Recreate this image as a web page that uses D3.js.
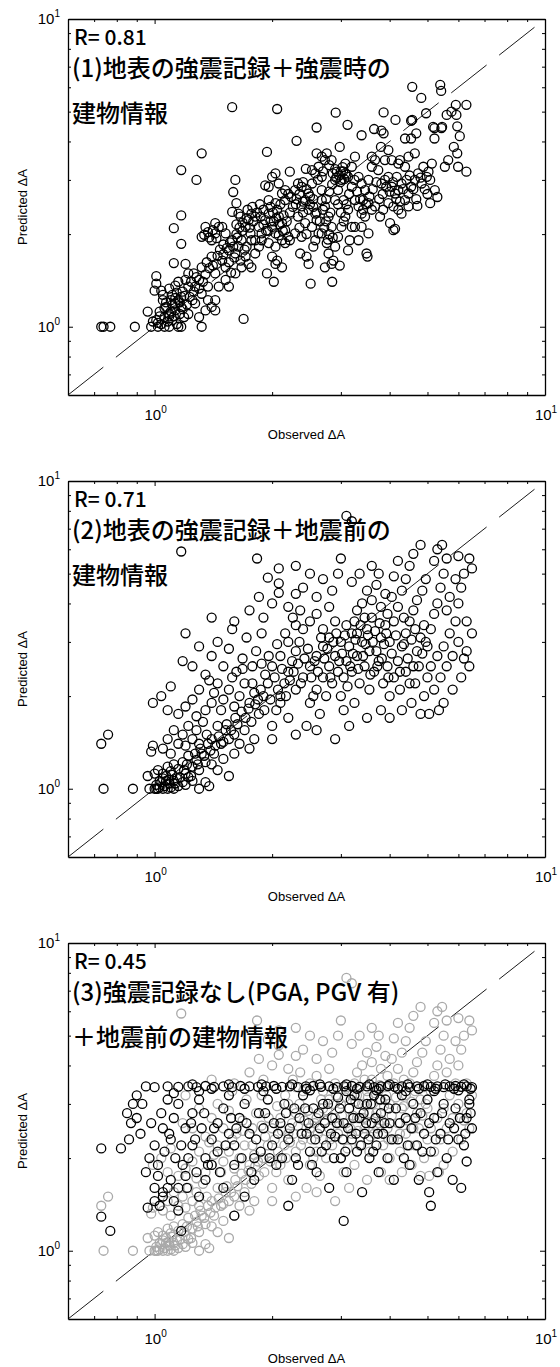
<!DOCTYPE html>
<html>
<head>
<meta charset="utf-8">
<script src="https://d3js.org/d3.v7.min.js"></script>
<style>
  body { margin: 0; background: #fff; }
</style>
</head>
<body>
<script>
// ---- data ----
var rValues = ["0.81", "0.71", "0.45"];
var labelLine1 = ["(1)地表の強震記録＋強震時の", "(2)地表の強震記録＋地震前の", "(3)強震記録なし(PGA, PGV 有)"];
var labelLine2 = ["建物情報", "建物情報", "＋地震前の建物情報"];
var majorTicks = [1, 10];
var minorTicks = [0.7, 0.8, 0.9, 2, 3, 4, 5, 6, 7, 8, 9];
var tickExponents = ["0", "1"];

// (1) observed vs predicted
var panel1Points = [
  [0.73,1.0],[0.74,1.0],[0.77,1.0],[0.89,1.0],[0.96,1.12],[0.98,1.0],
  [0.99,1.04],[1.01,1.05],[1.02,1.0],[1.04,1.02],[1.06,1.075],[1.09,1.10],[1.09,1.0],[1.11,1.05],
  [1.13,1.13],[1.15,1.0],[1.17,1.0],[1.13,1.19],[1.15,1.22],[1.17,1.16],[1.19,1.075],[1.10,1.22],
  [1.07,1.16],[1.0,1.31],[1.01,1.38],[1.01,1.46],[1.04,1.31],[1.09,1.33],[1.13,1.36],[1.15,1.40],
  [1.20,1.42],[1.12,1.61],[1.20,1.60],[1.17,1.25],[1.05,1.22],[1.02,1.03],[1.06,1.0],[1.08,1.04],
  [1.12,1.08],[1.14,1.02],[1.03,1.08],[1.1,1.12],[1.16,1.1],[1.18,1.14],[1.07,1.2],[1.11,1.27],
  [1.14,1.29],[1.18,1.3],[1.05,1.27],
  [1.22,1.10],[1.25,1.22],[1.27,1.35],[1.26,1.49],[1.30,1.42],[1.32,1.56],[1.32,1.28],[1.32,1.0],
  [1.35,1.13],[1.37,1.35],[1.40,1.16],[1.43,1.22],[1.43,1.49],[1.44,1.60],[1.40,1.69],[1.32,1.96],
  [1.37,2.03],[1.43,2.01],[1.46,2.11],[1.35,2.11],[1.40,1.91],[1.22,1.35],[1.22,1.49],[1.27,1.19],
  [1.30,1.075],[1.43,1.13],[1.46,1.35],[1.37,1.22],[1.34,1.99],[1.38,1.95],[1.41,2.06],[1.44,1.94],
  [1.17,3.23],[1.28,3.0],[1.32,3.66],[1.17,2.30],[1.12,2.09],[1.17,1.86],
  [1.49,1.64],[1.52,1.56],[1.55,1.77],[1.58,1.91],[1.61,1.73],[1.64,1.82],[1.61,3.0],[1.59,2.74],
  [1.62,2.52],[1.58,2.36],[1.64,2.33],[1.67,1.91],[1.71,2.11],[1.74,2.22],[1.77,2.33],[1.76,2.01],
  [1.67,1.56],[1.71,1.69],[1.74,1.60],[1.77,1.56],[1.69,1.06],[1.52,1.42],[1.55,1.35],[1.61,1.49],
  [1.66,1.64],[1.49,2.11],[1.52,2.01],[1.43,2.17],[1.72,1.82],[1.77,1.91],[1.55,1.62],[1.6,1.68],
  [1.63,1.95],[1.68,2.05],[1.7,1.78],[1.5,1.85],[1.57,1.5],
  [1.81,2.28],[1.85,2.11],[1.88,2.01],[1.92,2.22],[1.96,2.33],[2.0,2.11],[2.04,2.01],[2.08,2.28],
  [2.12,2.17],[2.16,2.06],[1.94,3.70],[1.92,2.88],[1.96,2.85],[2.0,3.07],[2.04,3.15],[2.08,2.92],
  [2.12,2.71],[2.16,2.58],[1.96,2.58],[2.04,2.52],[1.88,1.91],[1.96,1.87],[2.04,1.82],[2.12,1.91],
  [2.0,1.69],[2.04,1.60],[2.12,1.56],[2.02,1.40],[1.94,1.49],[1.81,1.91],[1.85,1.82],[2.16,1.87],
  [2.20,1.96],[2.16,2.78],[2.22,3.19],[2.06,1.64],[1.81,1.73],[1.9,2.4],[1.98,2.45],[2.06,2.4],
  [2.1,2.5],[1.86,2.5],[2.02,2.2],[1.95,2.05],[2.08,1.98],[2.14,2.3],
  [2.24,2.64],[2.29,2.78],[2.33,2.92],[2.38,2.85],[2.43,2.58],[2.48,2.71],[2.53,2.92],[2.58,3.15],
  [2.60,3.66],[2.68,3.57],[2.73,3.48],[2.31,4.02],[2.60,4.44],[2.38,2.46],[2.48,2.40],[2.58,2.33],
  [2.33,2.28],[2.43,2.17],[2.53,2.11],[2.60,2.22],[2.36,1.73],[2.45,1.69],[2.48,1.60],[2.58,1.91],
  [2.63,2.01],[2.55,1.82],[2.51,1.38],[2.38,1.96],[2.29,2.01],[2.22,1.91],[2.44,3.26],[2.53,3.23],
  [2.63,3.31],[2.68,3.07],[2.3,2.5],[2.4,2.35],[2.5,2.5],[2.55,2.6],[2.35,2.1],[2.45,2.0],
  [2.68,2.58],[2.73,2.46],[2.79,2.28],[2.84,2.11],[2.68,2.01],[2.76,1.87],[2.79,1.73],[2.84,1.60],
  [2.87,1.64],[2.73,1.56],[2.85,1.40],[2.98,1.58],[2.90,1.82],[2.95,1.96],[3.01,2.11],[3.08,2.28],
  [3.13,2.40],[2.90,2.58],[2.95,2.78],[3.01,3.0],[3.08,3.15],[3.13,3.07],[2.93,3.19],[2.98,3.84],
  [3.08,3.39],[3.20,3.31],[2.91,4.96],[3.12,4.53],[2.76,3.66],[2.84,3.48],[2.68,2.78],[3.16,1.91],
  [3.20,2.11],[3.13,1.77],[3.05,2.58],[2.97,3.1],[3.04,3.2],[3.06,3.02],[2.99,2.95],[3.1,3.12],
  [2.75,2.2],[2.8,2.0],[2.78,1.92],[2.82,2.35],[2.72,2.1],[2.86,1.95],
  [3.26,3.57],[3.39,4.19],[3.33,3.07],[3.39,2.92],[3.46,2.78],[3.53,3.0],[3.60,3.31],[3.67,3.48],
  [3.74,3.23],[3.81,2.92],[3.89,3.0],[3.26,2.58],[3.33,2.46],[3.39,2.33],[3.46,2.28],[3.53,2.52],
  [3.60,2.40],[3.67,2.46],[3.78,2.28],[3.85,2.40],[3.33,1.91],[3.51,1.69],[3.49,1.73],[3.53,2.01],
  [3.65,4.39],[3.81,4.34],[3.86,4.97],[3.86,4.25],[3.80,3.84],[3.60,3.57],[3.89,3.48],[3.26,2.11],
  [3.39,2.11],[3.42,2.58],
  [3.97,3.07],[4.05,2.85],[4.13,2.71],[4.21,2.78],[4.29,2.92],[4.38,2.58],[4.47,2.71],[4.54,2.85],
  [4.64,3.0],[4.73,3.15],[3.97,2.52],[4.09,2.46],[4.21,2.40],[4.29,2.33],[4.13,2.08],[4.09,2.06],
  [4.01,2.17],[4.47,2.46],[4.71,2.47],[4.05,3.48],[4.21,3.39],[4.38,3.31],[4.47,3.57],[4.64,3.66],
  [4.54,4.09],[4.38,4.09],[4.68,4.25],[4.54,4.67],[4.14,4.70],[3.97,3.75],[4.25,3.48],[4.17,3.07],
  [4.57,6.02],[4.82,5.54],[4.57,4.7],
  [4.83,2.92],[4.98,3.07],[5.08,3.0],[5.13,3.39],[5.08,2.52],[5.30,2.64],[5.22,2.78],[4.96,4.94],
  [5.21,4.42],[5.43,4.42],[5.21,4.09],[5.60,4.88],[5.76,5.0],[5.93,4.88],[5.96,4.48],[6.05,4.16],
  [5.91,5.26],[6.29,5.26],[5.84,3.84],[5.96,3.66],[5.99,3.31],[5.54,3.31],[5.65,3.48],[6.29,3.19],
  [5.03,3.19],[4.88,3.31],[5.39,6.11],[5.42,5.84],[5.17,4.46],[5.45,4.46],
  [1.58,5.17],[2.06,5.1],
  [1.03,1.12],[1.06,1.15],[1.09,1.08],[1.11,1.18],[1.13,1.24],[1.16,1.2],[1.19,1.26],[1.21,1.18],
  [1.23,1.25],[1.26,1.3],[1.24,1.4],[1.28,1.45],[1.3,1.33],[1.33,1.4],[1.35,1.48],[1.38,1.55],
  [1.36,1.62],[1.41,1.58],[1.45,1.7],[1.47,1.78],[1.5,1.72],[1.53,1.8],[1.56,1.88],[1.59,1.82],
  [1.62,2.0],[1.65,2.1],[1.68,2.18],[1.72,2.25],[1.75,2.1],[1.79,2.2],[1.83,2.35],[1.87,2.28],
  [1.9,2.15],[1.93,2.05],[1.98,2.2],[2.01,2.35],[2.05,2.25],[2.09,2.15],[2.13,2.05],[2.18,2.2],
  [2.22,2.35],[2.26,2.45],[2.31,2.6],[2.35,2.7],[2.4,2.55],[2.45,2.8],[2.5,2.65],[2.55,2.45],
  [2.6,2.35],[2.65,2.2],[2.7,2.4],[2.75,2.6],[2.8,2.75],[2.85,2.9],[2.9,3.0],[2.95,2.5],
  [3.0,2.35],[3.05,2.2],[3.1,2.5],[3.15,2.7],[3.2,2.85],[3.25,3.0],[3.3,2.75],[3.36,2.6],
  [3.42,2.4],[3.48,2.5],[3.55,2.65],[3.62,2.8],[3.7,2.95],[3.76,2.6],[3.84,2.7],[3.92,2.85],
  [4.0,2.75],[4.08,2.95],[4.16,2.6],[4.25,2.55],[4.33,2.8],[4.42,3.0],[4.5,3.1],[4.6,2.8],
  [4.68,2.6],[4.8,3.05],[4.92,2.8],[5.0,2.7],[1.62,2.15],[1.66,2.28],[1.73,2.4],[1.78,2.45],
  [2.86,3.15],[2.9,3.25],[3.0,3.2],[2.92,3.05],[3.03,3.3],[2.7,3.2],[2.8,3.35],[2.62,3.0],
  [2.4,2.95],[2.2,2.7]
];

// (2) observed vs predicted
var panel2Points = [
  [0.74,1.0],[0.88,1.0],[0.97,1.0],[1.0,1.0],[1.01,1.0],[1.02,1.0],[1.03,1.01],[1.05,1.0],[1.06,1.02],
  [1.08,1.0],[1.1,1.01],[1.12,1.0],[1.15,1.02],[1.04,1.05],[1.07,1.06],[1.09,1.04],[1.12,1.06],
  [1.14,1.08],[1.18,1.05],[1.2,1.03],[1.22,1.09],[1.25,1.06],[1.3,1.0],[1.35,1.05],[1.38,1.02],
  [0.73,1.40],[0.76,1.50],[0.96,1.10],[0.98,1.32],[0.99,1.38],[1.0,1.12],[1.02,1.15],[1.05,1.12],
  [1.08,1.18],[1.1,1.14],[1.12,1.2],[1.15,1.16],[1.18,1.22],[1.2,1.12],[1.22,1.28],[1.25,1.18],
  [1.28,1.24],[1.3,1.15],[1.32,1.3],[1.35,1.22],[1.4,1.2],[1.42,1.3],[1.45,1.15],[1.5,1.25],
  [1.55,1.1],[1.6,1.3],
  [1.05,1.35],[1.08,1.45],[1.1,1.3],[1.12,1.55],[1.15,1.4],[1.18,1.5],[1.2,1.38],[1.22,1.6],
  [1.25,1.45],[1.28,1.55],[1.3,1.4],[1.33,1.65],[1.36,1.5],[1.4,1.45],[1.45,1.6],[1.48,1.4],
  [1.52,1.55],[1.55,1.45],[1.6,1.5],[1.65,1.4],[1.7,1.55],[1.75,1.35],[1.8,1.45],
  [0.99,1.9],[1.04,2.0],[1.1,2.15],[1.08,1.8],[1.15,1.75],[1.2,1.85],[1.25,1.95],[1.3,2.1],
  [1.35,1.8],[1.4,1.9],[1.42,2.05],[1.45,2.2],[1.5,1.95],[1.55,2.1],[1.6,1.85],[1.65,2.0],
  [1.7,2.2],[1.75,1.9],[1.8,2.05],[1.85,1.75],[1.9,2.0],
  [1.18,2.6],[1.25,2.5],[1.3,2.9],[1.2,3.2],[1.35,2.35],[1.4,2.7],[1.45,3.0],[1.5,2.5],[1.55,2.85],
  [1.58,3.3],[1.62,2.4],[1.68,2.65],[1.72,3.1],[1.78,2.5],[1.82,2.8],[1.88,3.2],[1.92,2.35],
  [1.17,5.9],[1.83,5.6],[2.08,5.2],[1.95,4.85],[2.08,4.65],[2.08,4.33],
  [1.4,3.6],[1.6,3.5],[1.75,3.8],[1.9,3.6],[2.0,4.0],[1.85,4.2],[2.2,3.9],[2.3,4.3],
  [2.0,1.6],[2.05,1.8],[2.1,2.0],[2.15,2.2],[2.2,2.4],[2.25,2.6],[2.3,2.8],[2.35,3.0],[2.4,3.3],
  [2.0,2.5],[2.1,2.7],[2.2,3.0],[2.3,3.4],[2.1,1.9],[2.2,1.7],[2.3,2.1],[2.4,2.3],[2.5,2.5],
  [2.6,2.7],[2.7,2.9],[2.8,3.1],[2.5,1.9],[2.6,2.1],[2.7,2.3],[2.8,2.5],[2.9,2.7],[2.45,1.6],
  [2.55,2.0],[2.65,1.75],[2.75,2.0],[2.85,2.2],[2.95,2.4],[2.5,3.5],[2.6,3.7],[2.7,3.3],[2.8,3.9],
  [2.9,3.5],[2.4,4.5],[2.6,4.2],[2.7,4.8],[2.85,4.4],[2.95,5.0],[2.3,5.3],[2.5,5.0],
  [2.0,1.45],[2.3,1.5],[2.6,1.55],[2.9,1.45],
  [3.0,2.0],[3.05,2.3],[3.1,2.6],[3.15,2.9],[3.2,3.2],[3.25,3.5],[3.3,3.8],[3.0,3.0],[3.1,3.4],
  [3.2,2.4],[3.3,2.7],[3.4,3.0],[3.5,3.3],[3.6,3.6],[3.7,2.8],[3.8,3.1],[3.9,3.4],[3.35,2.2],
  [3.45,2.5],[3.55,2.1],[3.65,2.4],[3.75,2.6],[3.85,2.2],[3.95,2.5],[3.05,1.8],[3.25,1.9],
  [3.5,1.7],[3.8,1.8],[3.15,1.6],[3.4,4.0],[3.5,4.4],[3.6,4.1],[3.7,4.6],[3.8,3.9],[3.9,4.3],
  [3.2,4.7],[3.35,5.0],[3.1,7.7],[3.2,7.4],[3.0,5.6],[3.6,5.3],[3.75,5.0],[3.45,3.6],[3.95,3.7],
  [3.3,3.2],[3.55,2.8],
  [4.0,2.0],[4.1,2.3],[4.2,2.6],[4.3,2.9],[4.4,3.2],[4.5,3.5],[4.6,3.8],[4.7,4.1],[4.0,3.0],
  [4.1,3.5],[4.2,3.9],[4.3,4.4],[4.4,4.8],[4.5,5.3],[4.6,5.8],[4.8,6.2],[4.2,5.5],[4.1,4.9],
  [4.0,1.7],[4.3,1.8],[4.5,2.2],[4.6,2.5],[4.7,2.8],[4.8,3.1],[4.9,3.4],[4.4,2.4],[4.25,2.1],
  [4.8,1.75],[4.9,2.0],[5.0,2.3],[4.55,1.9],[4.65,3.3],[4.85,4.4],[4.95,4.8],[4.05,4.2],[4.35,3.6],
  [5.0,2.9],[5.1,3.3],[5.2,3.7],[5.3,4.0],[5.4,4.5],[5.5,5.0],[5.2,5.5],[5.3,6.0],[5.6,5.6],
  [5.1,2.5],[5.3,2.7],[5.5,2.9],[5.7,3.2],[5.9,3.5],[5.2,2.1],[5.4,2.3],[5.6,2.5],[5.8,2.7],
  [6.0,3.0],[5.5,1.9],[5.8,2.1],[6.1,2.3],[5.05,1.75],[5.35,1.8],[6.0,4.0],[6.1,4.5],[6.2,5.0],
  [6.3,3.5],[6.4,5.6],[6.5,5.2],[6.3,2.8],[6.4,2.5],[6.2,2.65],[6.5,3.2],[5.7,4.2],[5.9,4.8],
  [5.6,3.8],[6.0,5.7],[5.45,6.2],
  [1.01,1.03],[1.03,1.06],[1.05,1.08],[1.07,1.1],[1.09,1.07],[1.11,1.11],[1.13,1.04],[1.16,1.09],
  [1.19,1.15],[1.21,1.2],[1.24,1.1],[1.27,1.3],[1.29,1.2],[1.31,1.35],[1.34,1.28],[1.37,1.4],
  [1.39,1.33],[1.43,1.38],[1.46,1.48],[1.5,1.42],[1.53,1.62],[1.57,1.55],[1.61,1.7],[1.63,1.62],
  [1.67,1.78],[1.71,1.7],[1.74,1.82],[1.77,1.65],[1.81,1.88],[1.84,1.95],[1.87,2.1],[1.91,1.8],
  [1.95,2.2],[1.98,1.95],[2.03,2.3],[2.07,2.1],[2.12,2.45],[2.17,2.0],[2.22,2.25],[2.27,2.4],
  [2.33,2.55],[2.37,2.2],[2.42,2.65],[2.47,2.85],[2.52,2.3],[2.57,2.6],[2.62,2.4],[2.67,3.1],
  [2.72,2.65],[2.77,2.85],[2.82,2.3],[2.87,3.0],[2.92,3.2],[2.97,2.6],[3.02,2.75],[3.07,3.15],
  [3.12,2.15],[3.17,2.5],[3.22,2.75],[3.27,3.05],[3.32,2.45],[3.37,3.4],[3.42,2.7],[3.47,2.95],
  [3.52,3.15],[3.57,2.35],[3.62,3.0],[3.67,3.25],[3.72,2.5],[3.77,3.45],[3.82,2.65],[3.87,2.95],
  [3.92,3.2],[3.97,2.3],[4.05,2.75],[4.15,3.15],[4.25,2.4],[4.35,2.95],[4.45,2.65],[4.55,3.05],
  [4.65,2.2],[4.75,2.5],[4.85,2.75],[4.95,3.0],[1.28,1.72],[1.38,2.25],[1.48,1.8],[1.58,2.3],
  [1.68,2.45],[1.78,2.2],[1.88,2.55],[1.96,2.7],[2.06,2.95],[2.16,3.2],[2.26,3.6],[2.36,3.8]
];

// (3) observed vs predicted (black); grey marks repeat panel (2)
var panel3Points = [
  [0.73,1.29],[0.77,1.16],[0.96,1.38],[1.17,1.16],[0.73,2.15],[0.82,2.15],[0.85,2.8],[0.88,3.0],
  [0.9,3.2],[0.87,2.6],[0.92,2.4],[0.95,1.8],[0.97,2.0],[1.0,1.6],[1.02,1.75],[1.05,1.5],[1.0,1.45],
  [1.03,1.4],[1.05,1.55],[1.08,1.6],[1.1,1.7],[1.12,1.45],[1.15,1.6],[1.15,1.35],[1.18,1.9],
  [1.2,1.75],[1.22,2.0],[1.25,2.2],[1.05,2.5],[1.1,2.3],[1.12,2.7],[1.15,3.0],[1.2,2.5],[1.25,2.8],
  [1.3,3.1],[1.28,1.8],[1.3,1.5],[1.35,2.0],[1.4,2.3],[1.45,2.6],[1.5,2.9],[1.35,1.7],[1.4,1.9],
  [1.45,2.1],[1.5,1.6],[1.55,2.4],[1.6,2.2],[1.65,2.7],[1.7,3.0],[1.55,3.2],[1.6,1.9],[1.7,1.5],
  [1.75,2.4],[1.8,2.0],[1.85,2.8],[1.9,2.5],[1.95,3.1],[1.8,1.7],[2.0,2.2],[2.05,1.9],[2.1,2.6],
  [2.15,3.0],[2.2,2.3],[2.25,1.7],[2.3,2.0],[2.35,2.7],[2.4,3.2],[2.45,2.4],[2.5,2.1],[2.55,2.9],
  [2.6,1.8],[2.65,2.5],[2.7,3.0],[2.75,2.2],[2.8,1.6],[2.85,2.7],[2.9,2.35],[2.95,3.15],[3.0,2.0],
  [3.05,2.6],[3.1,1.8],[3.15,2.9],[3.2,2.3],[3.25,3.2],[3.3,2.1],[3.35,2.7],[3.4,1.55],[3.45,2.4],
  [3.5,3.0],[3.55,2.0],[3.6,2.6],[3.65,3.2],[3.7,2.2],[3.75,1.8],[3.8,2.8],[3.85,2.4],[3.9,3.1],
  [3.95,2.0],[4.0,2.6],[4.1,1.7],[4.15,2.9],[4.2,2.3],[4.3,3.2],[4.35,2.0],[4.4,2.7],[4.5,1.9],
  [4.55,2.5],[4.6,3.0],[4.7,2.2],[4.75,1.7],[4.8,2.8],[4.9,2.4],[5.0,3.1],[5.05,1.55],[5.1,2.1],
  [5.2,2.7],[5.3,1.8],[5.4,2.4],[5.5,3.0],[5.6,2.0],[5.7,2.6],[5.8,1.7],[5.9,2.9],[6.0,2.3],
  [6.1,1.6],[6.2,2.2],[6.3,2.7],[6.4,3.0],[6.5,2.5],[6.3,1.95],[6.4,3.1],
  [3.05,1.25],[5.1,1.4],[1.6,1.3],[2.2,1.4],
  [0.95,3.42],[1.0,3.4],[1.08,3.42],[1.15,3.41],
  [1.22,3.42],[1.28,3.40],[1.35,3.43],[1.42,3.41],[1.5,3.42],[1.58,3.40],[1.66,3.43],[1.75,3.42],
  [1.84,3.41],[1.93,3.42],[2.02,3.43],[2.12,3.41],[2.22,3.42],[2.33,3.40],[2.44,3.42],[2.55,3.43],
  [2.67,3.41],[2.8,3.42],[2.93,3.40],[3.06,3.42],[3.2,3.43],[3.35,3.41],[3.5,3.42],[3.65,3.40],
  [3.8,3.42],[3.96,3.43],[4.12,3.41],[4.3,3.42],[4.5,3.40],[4.7,3.42],[4.9,3.43],[5.1,3.41],
  [5.3,3.42],[5.5,3.40],[5.7,3.42],[5.9,3.43],[6.1,3.41],[6.3,3.42],[6.5,3.4],
  [1.3,3.3],[1.9,3.3],[2.5,3.32],[3.1,3.3],[3.7,3.32],[4.4,3.3],[5.2,3.3],[6.0,3.32],
  [1.25,3.47],[1.4,3.36],[1.55,3.47],[1.7,3.36],[1.88,3.47],[2.05,3.36],[2.25,3.47],[2.45,3.36],
  [2.65,3.47],[2.87,3.36],[3.1,3.47],[3.3,3.36],[3.55,3.47],[3.75,3.36],[4.0,3.47],[4.2,3.36],
  [4.45,3.47],[4.75,3.36],[5.0,3.47],[5.25,3.36],[5.55,3.47],[5.85,3.36],[6.2,3.47],[6.45,3.36],
  [1.02,1.9],[1.06,2.1],[1.09,2.4],[1.13,2.0],[1.17,2.2],[1.21,1.6],[1.24,2.6],[1.27,2.3],
  [1.32,2.5],[1.34,2.8],[1.37,1.9],[1.42,2.5],[1.47,1.8],[1.52,2.2],[1.57,2.7],[1.62,2.5],
  [1.67,2.0],[1.72,2.6],[1.77,1.8],[1.82,2.3],[1.87,2.1],[1.92,2.8],[1.97,2.0],[2.02,2.6],
  [2.07,2.4],[2.12,2.0],[2.17,2.8],[2.22,2.5],[2.28,2.9],[2.33,1.9],[2.38,2.4],[2.43,2.9],
  [2.48,2.6],[2.53,1.9],[2.58,2.3],[2.63,2.8],[2.68,2.1],[2.73,2.6],[2.78,3.0],[2.83,2.4],
  [2.88,2.0],[2.93,2.6],[2.98,2.9],[3.03,2.3],[3.08,2.1],[3.13,2.5],[3.18,3.1],[3.23,2.7],
  [3.28,2.4],[3.33,3.0],[3.38,2.2],[3.43,2.8],[3.48,2.6],[3.53,2.3],[3.58,3.0],[3.63,2.1],
  [3.68,2.7],[3.73,2.4],[3.78,3.1],[3.88,2.6],[3.98,2.9],[4.05,2.3],[4.25,2.6],[4.45,2.2],
  [4.65,2.7],[4.85,2.1],[5.05,2.6],[5.25,2.3],[5.45,2.8],[5.65,2.3],[5.85,2.5],[6.05,2.7],
  [6.25,2.4],[6.45,2.8],[0.86,2.3],[0.9,2.7],[0.93,3.0],[0.98,2.6],[1.0,2.2],[1.04,2.8],
  [1.08,3.1],[1.12,3.25]
];

// ---- layout ----
var W = 560, H = 1367;
var left = 68, plotW = 477, plotH = 376, top0 = 19, step = 462;
var tickFont = "'Liberation Sans', Arial, sans-serif";
var jpFont = "'Noto Sans CJK JP', sans-serif";

var svg = d3.select("body").append("svg")
    .attr("width", W)
    .attr("height", H);

var panels = [
  [{pts: panel1Points, color: "#000"}],
  [{pts: panel2Points, color: "#000"}],
  [{pts: panel2Points, color: "#a9a9a9"}, {pts: panel3Points, color: "#000"}]
];

panels.forEach(function(layers, i) {
  var top = top0 + i * step;
  var x = d3.scaleLog().domain([0.6, 10]).range([left, left + plotW]);
  var y = d3.scaleLog().domain([0.6, 10]).range([top + plotH, top]);
  var g = svg.append("g");

  // 1:1 line
  g.append("line")
      .attr("x1", x(0.6)).attr("y1", y(0.6))
      .attr("x2", x(10)).attr("y2", y(10))
      .attr("stroke", "#000")
      .attr("stroke-width", 0.9)
      .attr("stroke-dasharray", "45,16");

  // circles
  layers.forEach(function(layer) {
    g.append("g").selectAll("circle")
        .data(layer.pts)
        .enter().append("circle")
        .attr("cx", function(d) { return x(d[0]); })
        .attr("cy", function(d) { return y(d[1]); })
        .attr("r", 4.5)
        .attr("fill", "none")
        .attr("stroke", layer.color)
        .attr("stroke-width", 1.3);
  });

  // ticks on all four sides, pointing inward
  function addAxis(axisFn, scale, transform, values, size, showDomain) {
    var a = g.append("g")
        .attr("transform", transform)
        .call(axisFn(scale).tickValues(values).tickSizeInner(-size).tickSizeOuter(0).tickFormat(""));
    a.selectAll("line").attr("stroke", "#000").attr("stroke-width", 1);
    if (showDomain) {
      a.select(".domain").attr("stroke", "#000").attr("stroke-width", 1.3);
    } else {
      a.select(".domain").remove();
    }
  }
  addAxis(d3.axisBottom, x, "translate(0," + (top + plotH) + ")", majorTicks, 5, true);
  addAxis(d3.axisBottom, x, "translate(0," + (top + plotH) + ")", minorTicks, 3, false);
  addAxis(d3.axisTop, x, "translate(0," + top + ")", majorTicks, 5, true);
  addAxis(d3.axisTop, x, "translate(0," + top + ")", minorTicks, 3, false);
  addAxis(d3.axisLeft, y, "translate(" + left + ",0)", majorTicks, 5, true);
  addAxis(d3.axisLeft, y, "translate(" + left + ",0)", minorTicks, 3, false);
  addAxis(d3.axisRight, y, "translate(" + (left + plotW) + ",0)", majorTicks, 5, true);
  addAxis(d3.axisRight, y, "translate(" + (left + plotW) + ",0)", minorTicks, 3, false);

  // tick labels 10^0, 10^1
  majorTicks.forEach(function(v, k) {
    var tx = g.append("text")
        .attr("x", x(v) + 1)
        .attr("y", top + plotH + 25)
        .attr("text-anchor", "middle")
        .attr("font-family", tickFont)
        .attr("font-size", 15);
    tx.append("tspan").text("10");
    tx.append("tspan").attr("dy", -7).attr("font-size", 10).text(tickExponents[k]);

    var ty = g.append("text")
        .attr("x", 60)
        .attr("y", y(v) + 5)
        .attr("text-anchor", "end")
        .attr("font-family", tickFont)
        .attr("font-size", 15);
    ty.append("tspan").text("10");
    ty.append("tspan").attr("dy", -7).attr("font-size", 10).text(tickExponents[k]);
  });

  // axis titles
  g.append("text")
      .attr("x", left + plotW / 2)
      .attr("y", top + plotH + 44)
      .attr("text-anchor", "middle")
      .attr("font-family", tickFont)
      .attr("font-size", 13)
      .text("Observed \u0394A");
  g.append("text")
      .attr("transform", "translate(27," + (top + plotH / 2) + ") rotate(-90)")
      .attr("text-anchor", "middle")
      .attr("font-family", tickFont)
      .attr("font-size", 13)
      .text("Predicted \u0394A");

  // annotations
  g.append("text")
      .attr("x", 74)
      .attr("y", top + 26)
      .attr("font-family", jpFont)
      .attr("font-weight", 500)
      .attr("font-size", 21)
      .text("R= " + rValues[i]);
  g.append("text")
      .attr("x", 72)
      .attr("y", top + 58)
      .attr("font-family", jpFont)
      .attr("font-weight", 500)
      .attr("font-size", 24)
      .text(labelLine1[i]);
  g.append("text")
      .attr("x", 72)
      .attr("y", top + 103)
      .attr("font-family", jpFont)
      .attr("font-weight", 500)
      .attr("font-size", 24)
      .text(labelLine2[i]);
});
</script>
</body>
</html>
